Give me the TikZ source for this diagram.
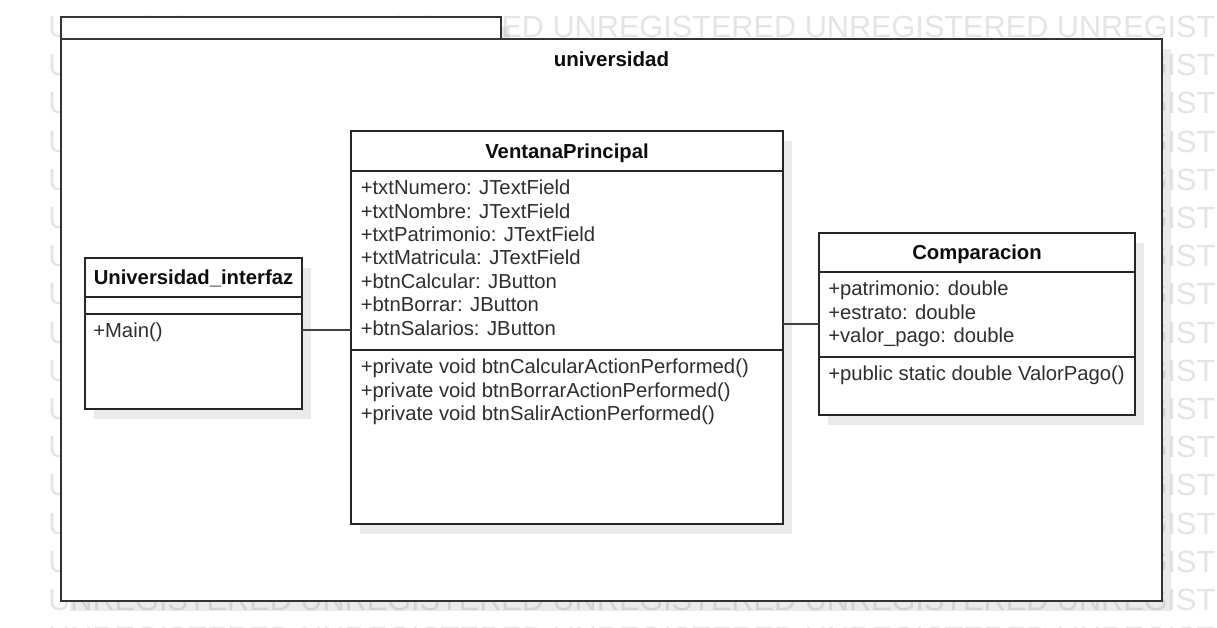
\documentclass[tikz,border=0pt]{standalone}
\usepackage{fontspec}
\setmainfont{Liberation Sans}
\usetikzlibrary{shadows}
\tikzset{
  wm/.style={anchor=base west, inner sep=0pt, text=black!10, font=\fontsize{23}{23}\selectfont},
  shd/.style={drop shadow={shadow xshift=7pt, shadow yshift=-7.5pt, opacity=0.08, fill=black}},
  pkgbox/.style={draw=black!80, line width=1.4pt, fill=white, anchor=north west, inner sep=0pt, outer sep=0pt, shd},
  classbox/.style={draw=black!85, line width=1.1pt, fill=white, anchor=north west, inner sep=0pt, outer sep=0pt, shd},
  sep/.style={draw=black!85, line width=1.1pt},
  title/.style={anchor=base, inner sep=0pt, text=black!95, font=\fontsize{15.2}{17.5}\selectfont\bfseries},
  attr/.style={anchor=base west, inner sep=0pt, text=black!82, font=\fontsize{15.2}{17.5}\selectfont},
  conn/.style={draw=black!75, line width=1.1pt}
}
\begin{document}
\begin{tikzpicture}[x=0.75pt,y=-0.75pt]
\useasboundingbox (0,0) rectangle (1217,628);
\fill[white] (0,0) rectangle (1217,628);
% watermark
\begin{scope}
\clip (0,0) rectangle (1217,628);
\foreach \k in {0,...,16} {
  \node[wm] (wm\k) at (48, {37.5+38.2*\k}) {UNREGISTERED UNREGISTERED UNREGISTERED UNREGISTERED UNREGISTERED};
}
\end{scope}
% package
\node[pkgbox, minimum width=330pt, minimum height=16.5pt] (tab) at (61,17) {};
\node[pkgbox, minimum width=825.75pt, minimum height=421.5pt] (pkg) at (61,39) {};
\node[title, font=\fontsize{15.4}{17.5}\selectfont\bfseries] (pkgname) at (611.5,66.7) {universidad};
% Universidad_interfaz
\node[classbox, minimum width=162.75pt, minimum height=113.25pt] (ui) at (85,258) {};
\draw[sep] (85,297) -- (302,297);
\draw[sep] (85,314) -- (302,314);
\node[title] (uit) at (193.5,284.8) {Universidad\_interfaz};
\node[attr] (uim1) at (93,337.7) {+Main()};
% VentanaPrincipal
\node[classbox, minimum width=324pt, minimum height=294.75pt] (vp) at (351,131) {};
\draw[sep] (351,171) -- (783,171);
\draw[sep] (351,350) -- (783,350);
\node[title] (vpt) at (567,158) {VentanaPrincipal};
\foreach [count=\i] \t in {+txtNumero: JTextField,+txtNombre: JTextField,+txtPatrimonio: JTextField,+txtMatricula: JTextField,+btnCalcular: JButton,+btnBorrar: JButton,+btnSalarios: JButton} {
  \node[attr] (vpa\i) at (360.5,{194.7+23.4*(\i-1)}) {\t};
}
\foreach [count=\i] \t in {+private void btnCalcularActionPerformed(),+private void btnBorrarActionPerformed(),+private void btnSalirActionPerformed()} {
  \node[attr] (vpm\i) at (360.5,{373.7+23.4*(\i-1)}) {\t};
}
% Comparacion
\node[classbox, minimum width=237pt, minimum height=136.5pt] (cmp) at (819,233) {};
\draw[sep] (819,272) -- (1135,272);
\draw[sep] (819,357) -- (1135,357);
\node[title] (cmpt) at (977,259.8) {Comparacion};
\foreach [count=\i] \t in {+patrimonio: double,+estrato: double,+valor\_pago: double} {
  \node[attr] (cmpa\i) at (828,{295.7+23.4*(\i-1)}) {\t};
}
\node[attr] (cmpm1) at (828,380.7) {+public static double ValorPago()};
% connectors
\coordinate (ya) at (0,330);
\coordinate (yb) at (0,324);
\draw[conn] (ui.east |- ya) -- (vp.west |- ya);
\draw[conn] (vp.east |- yb) -- (cmp.west |- yb);
\end{tikzpicture}
\end{document}
